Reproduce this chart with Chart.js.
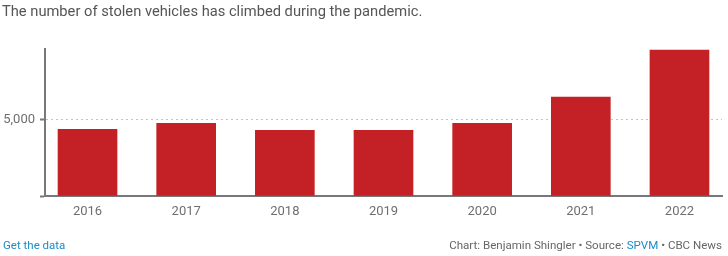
<!DOCTYPE html>
<html>
<head>
<meta charset="utf-8">
<script src="https://cdn.jsdelivr.net/npm/chart.js@4"></script>
<style>
    html, body { margin: 0; padding: 0; background: #fff; }
    #wrap { position: relative; width: 728px; height: 256px; overflow: hidden; font-family: Roboto, sans-serif; }
    #title { position: absolute; left: 2px; top: 2px; font-size: 14.7px; color: #555; white-space: nowrap; }
    #getData { position: absolute; left: 3px; top: 238px; font-size: 11.5px; color: #1a8bc8; }
    #credit { position: absolute; right: 6px; top: 238px; font-size: 11.55px; color: #666; white-space: nowrap; }
    #credit span { color: #1a8bc8; }
    canvas { position: absolute; left: 0; top: 0; }
</style>
</head>
<body>
<div id="wrap">
    <canvas id="chart" width="728" height="256"></canvas>
    <div id="title">The number of stolen vehicles has climbed during the pandemic.</div>
    <div id="getData">Get the data</div>
    <div id="credit">Chart: Benjamin Shingler • Source: <span>SPVM</span> • CBC News</div>
</div>
<script>
// Data
const years = ['2016', '2017', '2018', '2019', '2020', '2021', '2022'];
const stolen = [4375, 4770, 4310, 4310, 4770, 6480, 9570];
const yTicks = [0, 5000];

const axisGray = '#787878';
const barRed = '#c42127';

const ctx = document.getElementById('chart').getContext('2d');
const chart = new Chart(ctx, {
    type: 'bar',
    data: {
        datasets: [{
            data: stolen.map((v, i) => ({ x: i, y: v })),
            backgroundColor: barRed,
            barThickness: 59,
            borderWidth: 0
        }]
    },
    options: {
        responsive: false,
        animation: false,
        layout: { padding: { top: 49, right: 6, left: 0, bottom: 0 } },
        plugins: { legend: { display: false }, tooltip: { enabled: false } },
        scales: {
            x: {
                type: 'linear',
                offset: false,
                min: -0.431,
                max: 6.431,
                afterBuildTicks: s => { s.ticks = years.map((y, i) => ({ value: i })); },
                afterFit: s => { s.height = 60; },
                grid: { display: false, drawTicks: false },
                border: { display: true, color: axisGray, width: 2 },
                ticks: {
                    padding: 8,
                    color: '#6f6f6f',
                    font: { family: 'Roboto', size: 13 },
                    callback: v => years[v]
                }
            },
            y: {
                min: 0,
                max: 9640,
                afterBuildTicks: s => { s.ticks = yTicks.map(v => ({ value: v })); },
                afterFit: s => { s.width = 45; },
                border: { display: true, color: axisGray, width: 2, dash: [2, 3] },
                grid: {
                    color: c => c.tick && c.tick.value === 0 ? 'rgba(0,0,0,0)' : '#c4c4c4',
                    tickColor: axisGray,
                    tickLength: 5,
                    tickWidth: 2,
                    tickBorderDash: [],
                    lineWidth: 1
                },
                ticks: {
                    padding: 5,
                    color: '#6f6f6f',
                    font: { family: 'Roboto', size: 13 },
                    callback: v => v === 0 ? '' : v.toLocaleString('en-US')
                }
            }
        }
    }
});
</script>
</body>
</html>
